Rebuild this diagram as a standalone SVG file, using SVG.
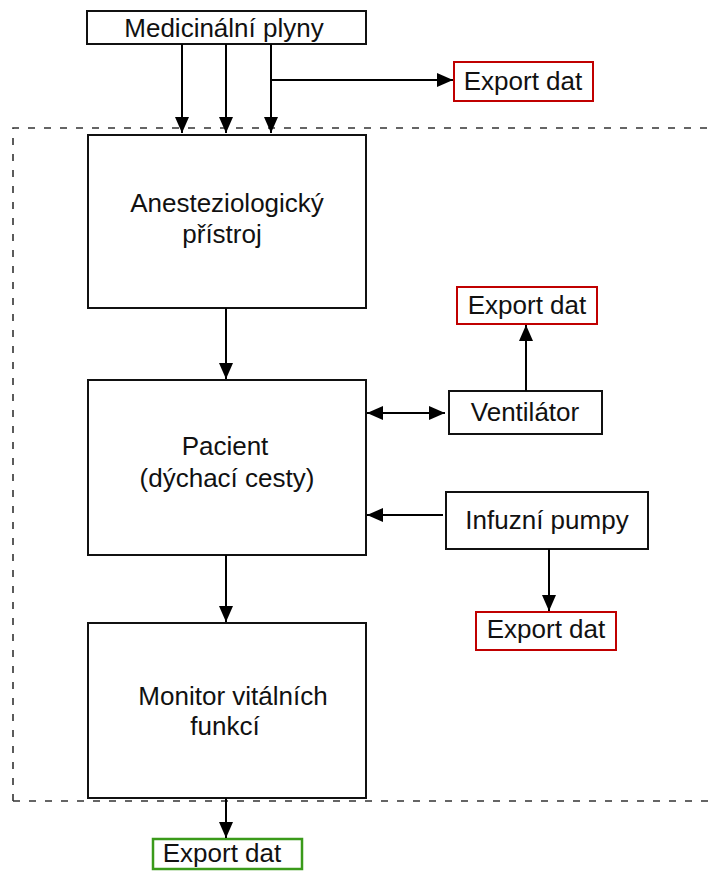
<svg xmlns="http://www.w3.org/2000/svg" width="715" height="872" viewBox="0 0 715 872">
<defs>
<marker id="ah" markerUnits="userSpaceOnUse" markerWidth="17" markerHeight="16" refX="16" refY="8" orient="auto-start-reverse">
<path d="M0,1 L16,8 L0,15 Z" fill="#000"/>
</marker>
<style>
text{font-family:"Liberation Sans",Arial,sans-serif;font-size:26px;fill:#111;text-anchor:middle}
.box{fill:#fff;stroke:#111;stroke-width:2}
.red{fill:#fff;stroke:#c00000;stroke-width:2}
.green{fill:#fff;stroke:#3a9a1a;stroke-width:2.5}
.con{fill:none;stroke:#000;stroke-width:2}
.dash{fill:none;stroke:#333;stroke-width:1.6;stroke-dasharray:7 9}
</style>
</defs>
<rect width="715" height="872" fill="#fff"/>
<path class="dash" d="M13,801 V128 H715 M13,801 H715"/>
<g id="medicinalni-plyny"><rect class="box" x="87" y="11" width="279" height="33"/><text x="224" y="37">Medicinální plyny</text></g>
<g id="export-top"><rect class="red" x="454" y="62" width="139" height="39"/><text x="523" y="90">Export dat</text></g>
<g id="anest"><rect class="box" x="88" y="135" width="278" height="173"/><text x="227" y="212">Anesteziologický</text><text x="222" y="243">přístroj</text></g>
<g id="pacient"><rect class="box" x="88" y="380" width="278" height="175"/><text x="225" y="455">Pacient</text><text x="227" y="487">(dýchací cesty)</text></g>
<g id="export-vent"><rect class="red" x="457" y="287" width="140" height="37"/><text x="527" y="314">Export dat</text></g>
<g id="ventilator"><rect class="box" x="449" y="391" width="153" height="43"/><text x="525" y="421">Ventilátor</text></g>
<g id="infuzni"><rect class="box" x="446" y="492" width="202" height="57"/><text x="547" y="529">Infuzní pumpy</text></g>
<g id="export-pump"><rect class="red" x="476" y="612" width="140" height="38"/><text x="546" y="638">Export dat</text></g>
<g id="monitor"><rect class="box" x="88" y="623" width="278" height="175"/><text x="233" y="705">Monitor vitálních</text><text x="225" y="735">funkcí</text></g>
<g id="export-green"><rect class="green" x="153" y="839" width="149" height="30"/><text x="222" y="862">Export dat</text></g>
<g id="connectors">
<path class="con" d="M182,44 V133" marker-end="url(#ah)"/>
<path class="con" d="M226,44 V133" marker-end="url(#ah)"/>
<path class="con" d="M271,44 V133" marker-end="url(#ah)"/>
<path class="con" d="M271,80 H453" marker-end="url(#ah)"/>
<path class="con" d="M226,308 V379" marker-end="url(#ah)"/>
<path class="con" d="M226,555 V622" marker-end="url(#ah)"/>
<path class="con" d="M367,413 H445" marker-start="url(#ah)" marker-end="url(#ah)"/>
<path class="con" d="M526,391 V325" marker-end="url(#ah)"/>
<path class="con" d="M443,515 H367" marker-end="url(#ah)"/>
<path class="con" d="M549,549 V611" marker-end="url(#ah)"/>
<path class="con" d="M226,798 V838" marker-end="url(#ah)"/>
</g>
</svg>
